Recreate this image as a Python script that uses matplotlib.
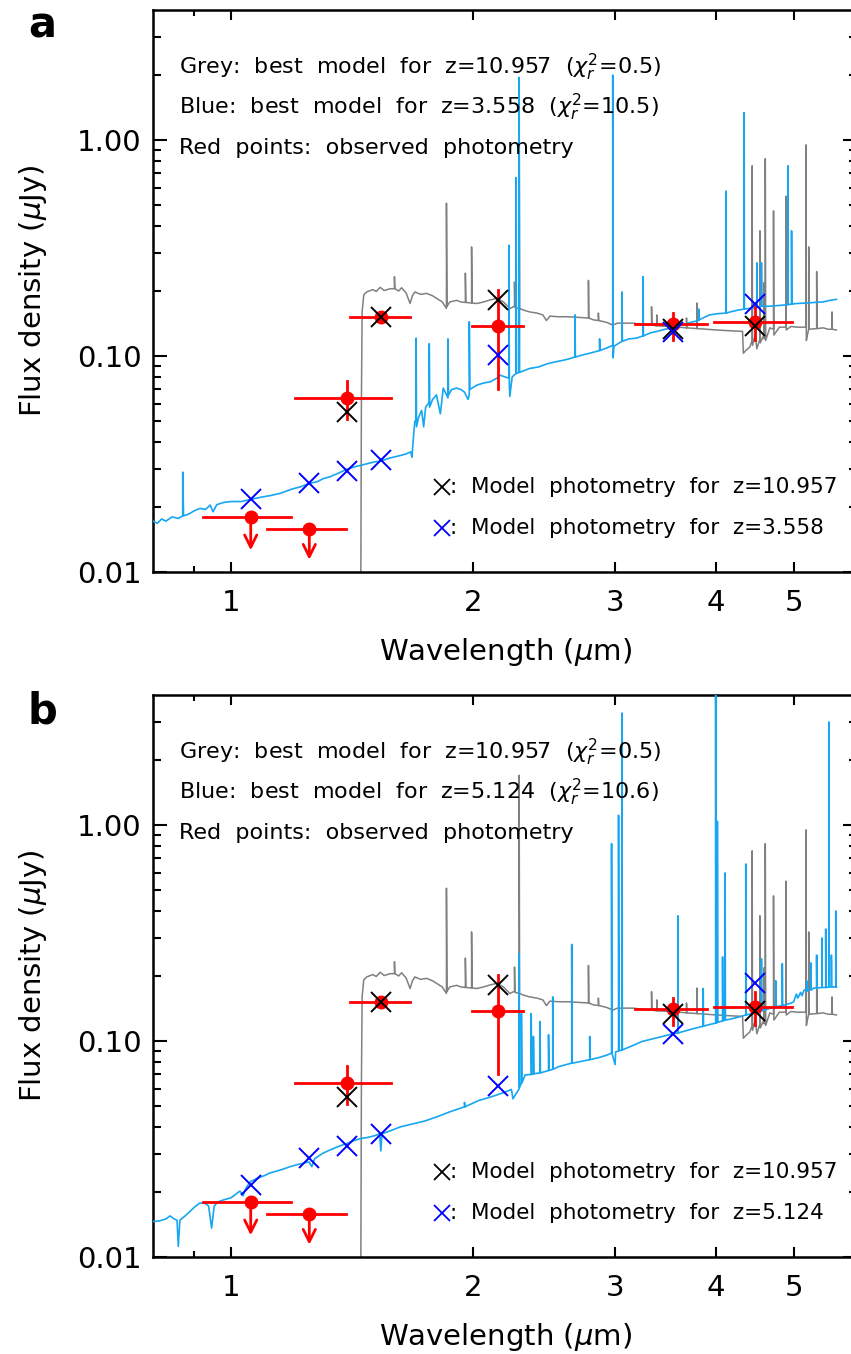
import numpy as np
import matplotlib
matplotlib.use('Agg')
import matplotlib.pyplot as plt
from matplotlib.ticker import FixedLocator, NullFormatter, FixedFormatter

plt.rcParams['font.family'] = ['DejaVu Sans']
plt.rcParams['mathtext.fontset'] = 'dejavusans'

# observed photometry (micron, microJy)
obs_wl = [1.058, 1.251, 1.395, 1.536, 2.144, 3.54, 4.48]
obs_wl_lo = [0.923, 1.109, 1.202, 1.405, 1.990, 3.18, 3.98]
obs_wl_hi = [1.187, 1.390, 1.582, 1.668, 2.303, 3.90, 4.98]
obs_f = [0.018, 0.0159, 0.0637, 0.152, 0.138, 0.140, 0.144]
obs_f_lo = [0.018, 0.0159, 0.0511, 0.146, 0.0703, 0.118, 0.118]
obs_f_hi = [0.018, 0.0159, 0.0767, 0.159, 0.203, 0.158, 0.168]
is_limit = [True, True, False, False, False, False, False]
limit_tip = [0.0126, 0.0114]

# model photometry, z=10.957 (black crosses)
hiz_wl = [1.395, 1.536, 2.144, 3.54, 4.48]
hiz_f = [0.0552, 0.152, 0.181, 0.134, 0.137]

# model photometry for the low-z solutions (blue crosses)
lowz_a_wl = [1.058, 1.251, 1.395, 1.536, 2.144, 3.54, 4.48]
lowz_a_f = [0.0217, 0.0257, 0.0294, 0.0330, 0.101, 0.129, 0.175]
lowz_b_wl = [1.058, 1.251, 1.395, 1.536, 2.144, 3.54, 4.48]
lowz_b_f = [0.0215, 0.0286, 0.0328, 0.0370, 0.0622, 0.1073, 0.185]

# grey SED, z=10.957 (wavelength, flux)
grey_sed = [
    (1.449, 0.005), (1.452, 0.06), (1.455, 0.16), (1.462, 0.192), (1.474, 0.198),
    (1.50, 0.203), (1.515, 0.199), (1.532, 0.208), (1.55, 0.201), (1.577, 0.205),
    (1.596, 0.205), (1.596, 0.233), (1.598, 0.205), (1.615, 0.200), (1.629, 0.207),
    (1.65, 0.196), (1.669, 0.175), (1.68, 0.19), (1.692, 0.198), (1.72, 0.193),
    (1.75, 0.195), (1.78, 0.19), (1.80, 0.185), (1.83, 0.178), (1.852, 0.166),
    (1.852, 0.51), (1.855, 0.17), (1.87, 0.178), (1.907, 0.181), (1.93, 0.178),
    (1.955, 0.177), (1.955, 0.242), (1.958, 0.177), (1.99, 0.176), (1.99, 0.32),
    (1.993, 0.176), (2.02, 0.175), (2.06, 0.178), (2.10, 0.182), (2.14, 0.185),
    (2.18, 0.178), (2.22, 0.166), (2.25, 0.17), (2.25, 0.22), (2.253, 0.168),
    (2.28, 0.166), (2.28, 1.7), (2.283, 0.166), (2.31, 0.163), (2.35, 0.16),
    (2.40, 0.158), (2.44, 0.155), (2.465, 0.146), (2.49, 0.153), (2.55, 0.152),
    (2.62, 0.152), (2.70, 0.151), (2.78, 0.150), (2.78, 0.224), (2.783, 0.150),
    (2.82, 0.147), (2.86, 0.146), (2.86, 0.158), (2.863, 0.146), (2.93, 0.143),
    (2.98, 0.139), (3.02, 0.142), (3.08, 0.142), (3.16, 0.142), (3.25, 0.14),
    (3.33, 0.139), (3.33, 0.169), (3.333, 0.139), (3.38, 0.138), (3.38, 0.155),
    (3.383, 0.138), (3.50, 0.137), (3.60, 0.136), (3.68, 0.135), (3.68, 0.15),
    (3.683, 0.135), (3.79, 0.134), (3.79, 0.176), (3.793, 0.134), (3.90, 0.133),
    (4.01, 0.132), (4.15, 0.131), (4.32, 0.130), (4.33, 0.103), (4.36, 0.106),
    (4.41, 0.110), (4.44, 0.118), (4.44, 0.76), (4.445, 0.112), (4.48, 0.125),
    (4.50, 0.108), (4.54, 0.12), (4.54, 0.38), (4.545, 0.115), (4.59, 0.125),
    (4.59, 0.218), (4.595, 0.12), (4.61, 0.128), (4.61, 0.82), (4.615, 0.118),
    (4.67, 0.135), (4.72, 0.133), (4.72, 0.47), (4.725, 0.125), (4.80, 0.136),
    (4.89, 0.136), (4.89, 0.55), (4.895, 0.132), (4.96, 0.137), (5.05, 0.136),
    (5.10, 0.136), (5.18, 0.136), (5.18, 0.95), (5.185, 0.118), (5.20, 0.125),
    (5.22, 0.133), (5.22, 0.32), (5.225, 0.133), (5.34, 0.134), (5.34, 0.246),
    (5.345, 0.134), (5.44, 0.135), (5.52, 0.133), (5.58, 0.133), (5.58, 0.16),
    (5.585, 0.133), (5.65, 0.132)]

# blue SED panel a, z=3.558
blue_sed_a = [
    (0.80, 0.0172), (0.81, 0.0168), (0.82, 0.0176), (0.83, 0.0172), (0.845, 0.018),
    (0.86, 0.0177), (0.871, 0.0182), (0.871, 0.029), (0.873, 0.0182), (0.885, 0.0185),
    (0.90, 0.0192), (0.915, 0.0197), (0.93, 0.0195), (0.942, 0.0204), (0.95, 0.019),
    (0.96, 0.0205), (0.98, 0.021), (1.00, 0.0212), (1.03, 0.0212), (1.058, 0.0217),
    (1.09, 0.0222), (1.12, 0.0226), (1.15, 0.0231), (1.19, 0.0242), (1.22, 0.0248),
    (1.25, 0.0257), (1.28, 0.0262), (1.30, 0.027), (1.327, 0.0276), (1.36, 0.0287),
    (1.395, 0.0300), (1.43, 0.0308), (1.47, 0.0316), (1.50, 0.0322), (1.536, 0.0327),
    (1.58, 0.0338), (1.622, 0.0346), (1.65, 0.0352), (1.672, 0.036), (1.678, 0.034),
    (1.685, 0.042), (1.692, 0.05), (1.698, 0.05), (1.698, 0.121), (1.70, 0.047),
    (1.71, 0.052), (1.725, 0.056), (1.735, 0.047), (1.745, 0.058), (1.763, 0.061),
    (1.763, 0.114), (1.765, 0.058), (1.78, 0.063), (1.80, 0.066), (1.82, 0.054),
    (1.835, 0.071), (1.86, 0.064), (1.86, 0.12), (1.863, 0.066), (1.88, 0.07),
    (1.907, 0.071), (1.93, 0.07), (1.95, 0.068), (1.97, 0.063), (1.977, 0.066),
    (1.977, 0.144), (1.98, 0.07), (2.02, 0.0733), (2.06, 0.075), (2.10, 0.076),
    (2.14, 0.079), (2.16, 0.0815), (2.19, 0.080), (2.214, 0.079), (2.214, 0.326),
    (2.217, 0.075), (2.22, 0.065), (2.235, 0.08), (2.26, 0.083), (2.26, 0.67),
    (2.263, 0.083), (2.28, 0.084), (2.28, 1.95), (2.283, 0.084), (2.35, 0.0876),
    (2.41, 0.089), (2.47, 0.092), (2.53, 0.094), (2.585, 0.0955), (2.63, 0.097),
    (2.675, 0.099), (2.675, 0.155), (2.678, 0.099), (2.73, 0.101), (2.79, 0.103),
    (2.87, 0.106), (2.87, 0.12), (2.873, 0.106), (2.93, 0.109), (2.98, 0.112),
    (2.98, 2.0), (2.983, 0.098), (2.99, 0.111), (3.06, 0.117), (3.06, 0.198),
    (3.063, 0.117), (3.12, 0.12), (3.19, 0.121), (3.25, 0.124), (3.25, 0.233),
    (3.253, 0.124), (3.32, 0.128), (3.38, 0.130), (3.46, 0.133), (3.54, 0.135),
    (3.63, 0.139), (3.72, 0.143), (3.81, 0.146), (3.81, 0.165), (3.813, 0.147),
    (3.93, 0.155), (4.02, 0.157), (4.12, 0.158), (4.12, 0.58), (4.123, 0.158),
    (4.17, 0.160), (4.26, 0.163), (4.34, 0.165), (4.34, 1.34), (4.343, 0.165),
    (4.40, 0.166), (4.50, 0.168), (4.50, 0.27), (4.503, 0.168), (4.56, 0.170),
    (4.56, 0.27), (4.563, 0.170), (4.66, 0.170), (4.76, 0.171), (4.85, 0.172),
    (4.92, 0.173), (4.92, 0.76), (4.923, 0.173), (4.97, 0.174), (4.97, 0.38),
    (4.973, 0.174), (5.04, 0.175), (5.20, 0.176), (5.30, 0.177), (5.44, 0.178),
    (5.55, 0.181), (5.65, 0.183)]

# blue SED panel b, z=5.124
blue_sed_b = [
    (0.80, 0.0146), (0.815, 0.0147), (0.83, 0.0150), (0.84, 0.0155), (0.85, 0.0150),
    (0.857, 0.0148), (0.860, 0.0112), (0.864, 0.0148), (0.877, 0.0155), (0.89, 0.0163),
    (0.902, 0.0171), (0.915, 0.0178), (0.929, 0.0177), (0.938, 0.0172), (0.946, 0.0136),
    (0.953, 0.0172), (0.963, 0.018), (0.98, 0.0184), (1.00, 0.0188), (1.015, 0.0196),
    (1.026, 0.0202), (1.035, 0.0192), (1.045, 0.021), (1.058, 0.0224), (1.08, 0.0232),
    (1.10, 0.0238), (1.118, 0.0245), (1.14, 0.0250), (1.16, 0.0255), (1.184, 0.0262),
    (1.21, 0.0268), (1.23, 0.0272), (1.25, 0.0276), (1.26, 0.0262), (1.27, 0.0285),
    (1.30, 0.0302), (1.327, 0.0313), (1.36, 0.0325), (1.395, 0.0336), (1.42, 0.0345),
    (1.446, 0.0353), (1.48, 0.0358), (1.51, 0.0365), (1.53, 0.0372), (1.535, 0.031),
    (1.54, 0.0372), (1.58, 0.0385), (1.622, 0.040), (1.68, 0.0413), (1.74, 0.0426),
    (1.80, 0.0445), (1.87, 0.047), (1.95, 0.0496), (1.95, 0.052), (1.953, 0.0496),
    (2.03, 0.053), (2.10, 0.055), (2.19, 0.058), (2.23, 0.0597), (2.24, 0.054),
    (2.26, 0.057), (2.28, 0.06), (2.28, 0.254), (2.283, 0.061), (2.295, 0.064),
    (2.295, 0.134), (2.298, 0.064), (2.32, 0.0697), (2.36, 0.070), (2.36, 0.134),
    (2.363, 0.070), (2.375, 0.0705), (2.375, 0.105), (2.378, 0.0705), (2.42, 0.0712),
    (2.42, 0.123), (2.423, 0.0712), (2.48, 0.073), (2.48, 0.107), (2.483, 0.073),
    (2.51, 0.074), (2.51, 0.16), (2.513, 0.074), (2.55, 0.076), (2.65, 0.079),
    (2.65, 0.28), (2.653, 0.079), (2.68, 0.0795), (2.79, 0.082), (2.79, 0.105),
    (2.793, 0.082), (2.86, 0.0837), (2.93, 0.086), (2.97, 0.088), (2.97, 0.82),
    (2.973, 0.088), (3.00, 0.0778), (3.005, 0.089), (3.03, 0.090), (3.03, 1.11),
    (3.033, 0.090), (3.06, 0.091), (3.06, 3.3), (3.063, 0.091), (3.15, 0.095),
    (3.24, 0.0995), (3.40, 0.104), (3.57, 0.1088), (3.59, 0.109), (3.59, 0.38),
    (3.593, 0.109), (3.75, 0.114), (3.86, 0.117), (3.86, 0.175), (3.863, 0.117),
    (3.92, 0.119), (4.00, 0.121), (4.00, 5.0), (4.003, 0.121), (4.02, 0.122),
    (4.02, 1.04), (4.023, 0.122), (4.08, 0.124), (4.08, 0.245), (4.083, 0.124),
    (4.11, 0.125), (4.11, 0.60), (4.113, 0.125), (4.20, 0.127), (4.30, 0.130),
    (4.36, 0.132), (4.36, 0.66), (4.363, 0.132), (4.48, 0.135), (4.56, 0.138),
    (4.56, 0.24), (4.563, 0.138), (4.65, 0.141), (4.75, 0.144), (4.75, 0.19),
    (4.753, 0.144), (4.84, 0.146), (4.84, 0.228), (4.843, 0.146), (4.97, 0.150),
    (5.0, 0.152), (5.04, 0.165), (5.06, 0.158), (5.10, 0.168), (5.12, 0.162),
    (5.15, 0.172), (5.19, 0.174), (5.19, 0.19), (5.193, 0.170), (5.25, 0.175),
    (5.25, 0.23), (5.253, 0.172), (5.30, 0.176), (5.34, 0.176), (5.34, 0.25),
    (5.343, 0.176), (5.42, 0.177), (5.42, 0.30), (5.423, 0.177), (5.48, 0.177),
    (5.48, 0.33), (5.483, 0.177), (5.53, 0.178), (5.53, 3.0), (5.533, 0.178),
    (5.57, 0.178), (5.57, 0.25), (5.573, 0.178), (5.64, 0.178), (5.64, 0.40),
    (5.643, 0.178), (5.65, 0.178)]

panels = [
    ('a', blue_sed_a, lowz_a_wl, lowz_a_f, '3.558', '10.5'),
    ('b', blue_sed_b, lowz_b_wl, lowz_b_f, '5.124', '10.6'),
]

W, H = 851, 1354
fig = plt.figure(figsize=(W / 100, H / 100), dpi=100)

ax_left, ax_right = 153, 857.4
tops = [10, 695]
ax_h = 562
fs_txt = 16

for (lab, bsed, bwl, bf, zb, chib), top in zip(panels, tops):
    ax = fig.add_axes([ax_left / W, (H - top - ax_h) / H,
                       (ax_right - ax_left) / W, ax_h / H])
    ax.set_xscale('log')
    ax.set_yscale('log')

    gx, gy = zip(*grey_sed)
    ax.plot(gx, gy, color='#808080', lw=1.1, zorder=2)
    bx, by = zip(*bsed)
    ax.plot(bx, by, color='#16a6f2', lw=1.2, zorder=3)

    # observed points
    for i in range(len(obs_wl)):
        w, f = obs_wl[i], obs_f[i]
        ax.plot([obs_wl_lo[i], obs_wl_hi[i]], [f, f], color='red', lw=2.0, zorder=5)
        if is_limit[i]:
            ax.annotate('', xy=(w, limit_tip[i]), xytext=(w, f),
                        arrowprops=dict(arrowstyle='->', color='red', lw=2.0,
                                        mutation_scale=22, shrinkA=0, shrinkB=0),
                        zorder=5)
        else:
            ax.plot([w, w], [obs_f_lo[i], obs_f_hi[i]], color='red', lw=2.0, zorder=5)
    ax.plot(obs_wl, obs_f, 'o', color='red', ms=9, zorder=6)

    ax.plot(hiz_wl, hiz_f, 'x', color='black', ms=14, mew=1.4, zorder=7)
    ax.plot(bwl, bf, 'x', color='blue', ms=14, mew=1.4, zorder=8)

    ax.xaxis.set_major_locator(FixedLocator([1, 2, 3, 4, 5]))
    ax.xaxis.set_major_formatter(FixedFormatter(['1', '2', '3', '4', '5']))
    ax.xaxis.set_minor_locator(FixedLocator([0.9]))
    ax.xaxis.set_minor_formatter(NullFormatter())
    ax.yaxis.set_major_locator(FixedLocator([0.01, 0.1, 1.0]))
    ax.yaxis.set_major_formatter(FixedFormatter(['0.01', '0.10', '1.00']))
    ax.yaxis.set_minor_locator(FixedLocator(
        [m * d for d in (0.01, 0.1, 1.0) for m in range(2, 10) if m * d < 4.0]))
    ax.yaxis.set_minor_formatter(NullFormatter())

    ax.tick_params(axis='both', which='both', direction='in', top=True, right=True,
                   width=1.5, labelsize=21)
    ax.tick_params(axis='x', which='major', length=7.5, pad=12)
    ax.tick_params(axis='x', which='minor', length=4)
    ax.tick_params(axis='y', which='major', length=10, pad=8)
    ax.tick_params(axis='y', which='minor', length=5.5)
    for s in ax.spines.values():
        s.set_linewidth(1.8)

    ax.set_xlabel(r'Wavelength ($\mu$m)', fontsize=21, labelpad=14)
    ax.set_ylabel(r'Flux density ($\mu$Jy)', fontsize=21, labelpad=20)

    tx = 0.037
    ax.text(tx, 0.897, r'Grey:  best  model  for  z=10.957  ($\chi^2_r$=0.5)',
            transform=ax.transAxes, fontsize=fs_txt, va='center', ha='left')
    ax.text(tx, 0.826, 'Blue:  best  model  for  z=' + zb + r'  ($\chi^2_r$=' + chib + ')',
            transform=ax.transAxes, fontsize=fs_txt, va='center', ha='left')
    ax.text(tx, 0.754, 'Red  points:  observed  photometry',
            transform=ax.transAxes, fontsize=fs_txt, va='center', ha='left')

    ax.plot([0.410], [0.151], 'x', color='black', ms=11, mew=1.3, transform=ax.transAxes,
            clip_on=False)
    ax.plot([0.410], [0.078], 'x', color='blue', ms=11, mew=1.3, transform=ax.transAxes,
            clip_on=False)
    ax.text(0.422, 0.151, ':  Model  photometry  for  z=10.957', transform=ax.transAxes,
            fontsize=15.5, va='center', ha='left')
    ax.text(0.422, 0.078, ':  Model  photometry  for  z=' + zb, transform=ax.transAxes,
            fontsize=15.5, va='center', ha='left')

    ax.set_xlim(0.8, 6.0)
    ax.set_ylim(0.01, 4.0)

    fig.text(42 / W, 1 - (top + 16) / H, lab, fontsize=30, fontweight='bold',
             ha='center', va='center')

fig.savefig('out.png', dpi=100)
